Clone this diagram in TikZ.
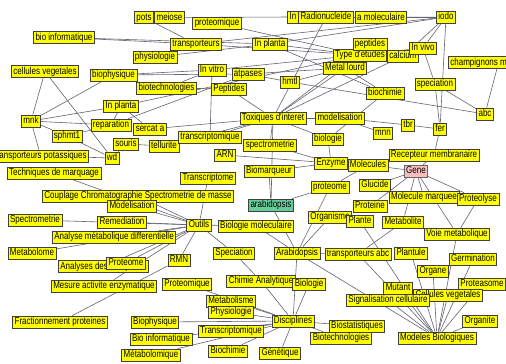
\documentclass[tikz,border=0pt]{standalone}
\usepackage{fontspec}
\newfontfamily\fnt[FakeStretch=0.8]{Liberation Sans}
\usetikzlibrary{backgrounds}
\definecolor{nodey}{RGB}{255,255,0}
\definecolor{nodeg}{RGB}{102,204,153}
\definecolor{nodep}{RGB}{250,190,190}
\definecolor{edgec}{RGB}{100,100,112}
\tikzset{
  nd/.style={draw=black!75, fill=nodey, line width=0.7pt, inner xsep=2pt, inner ysep=0pt,
    minimum height=12pt, text height=7.3pt, text depth=2.2pt, font=\fnt\fontsize{10}{11}\selectfont},
  gnd/.style={nd, fill=nodeg},
  pnd/.style={nd, fill=nodep, draw=black!60},
  ln/.style={draw=edgec, line width=0.6pt},
}
\begin{document}
\begin{tikzpicture}[x=1pt,y=-1pt]
\useasboundingbox (0,0) rectangle (506,364);
% nodes
\node[nd] (pots) at (144,17.5) {pots};
\node[nd] (meiose) at (169.5,17.5) {meiose};
\node[nd] (proteomique) at (217,23) {proteomique};
\node[nd] (In) at (293,17) {In};
\node[nd] (radio) at (326,17) {Radionucleide};
\node[nd] (amolec) at (381,17.5) {a moleculaire};
\node[nd] (iodo) at (446,17) {iodo};
\node[nd] (bioinf) at (64,37.5) {bio informatique};
\node[nd] (transp) at (196,44) {transporteurs};
\node[nd] (inplanta) at (270,44) {In planta};
\node[nd] (typeet) at (360,55) {Type d'etudes};
\node[nd] (peptides) at (370,44) {peptides};
\node[nd] (calcium) at (403,56) {calcium};
\node[nd] (invivo) at (423,48) {In vivo};
\node[nd] (physio) at (155,57) {physiologie};
\node[nd] (cellveg) at (45,71.5) {cellules vegetales};
\node[nd] (biophys) at (113.5,75) {biophysique};
\node[nd] (invitro) at (212,70) {In vitro};
\node[nd] (atpases) at (248,74) {atpases};
\node[nd] (metallourd) at (345,68) {Metal lourd};
\node[nd] (hmtl) at (290,82) {hmtl};
\node[nd,anchor=west] (champ) at (448,62.5) {champignons mycorhiziens};
\node[nd] (biotech) at (166.5,88) {biotechnologies};
\node[nd] (peptB) at (229,89) {Peptides};
\node[nd] (biochimie) at (385,93) {biochimie};
\node[nd] (speciation) at (435,84) {speciation};
\node[nd] (inplanta2) at (121,106) {In planta};
\node[nd] (mnk) at (31,121) {mnk};
\node[nd] (reparation) at (111,125) {reparation};
\node[nd] (sercat) at (150,129) {sercat a};
\node[nd] (toxiques) at (273,118) {Toxiques d'interet};
\node[nd] (modelis) at (340,118) {modelisation};
\node[nd] (tbr) at (408,125) {tbr};
\node[nd] (fer) at (440,129) {fer};
\node[nd] (abc) at (485,114) {abc};
\node[nd] (sphmt1) at (67,136) {sphmt1};
\node[nd] (souris) at (126,144) {souris};
\node[nd] (tellurite) at (164,146) {tellurite};
\node[nd] (transcriptomique) at (210,137) {transcriptomique};
\node[nd] (biologie) at (328,139) {biologie};
\node[nd] (mnn) at (383,133) {mnn};
\node[nd] (wd) at (112,158) {wd};
\node[nd,anchor=east] (transpot) at (89,156) {transporteurs potassiques};
\node[nd] (spectrom) at (270,145) {spectrometrie};
\node[nd] (arn) at (225,155) {ARN};
\node[nd] (recept) at (434,155) {Recepteur membranaire};
\node[nd] (enzyme) at (331,163) {Enzyme};
\node[nd] (molecules) at (368,165) {Molecules};
\node[pnd] (gene) at (416,171) {Gene};
\node[nd] (techmarq) at (54,173) {Techniques de marquage};
\node[nd] (biomarq) at (269,171) {Biomarqueur};
\node[nd] (transcriptome) at (208,178) {Transcriptome};
\node[nd] (proteomeL) at (330,187) {proteome};
\node[nd] (glucide) at (375,185) {Glucide};
\node[nd] (couplage) at (138,196) {Couplage Chromatographie Spectrometrie de masse};
\node[nd] (modelis2) at (132,206) {Modelisation};
\node[gnd] (arabid) at (271,205) {arabidopsis};
\node[nd] (molmarq) at (424,197) {Molecule marquee};
\node[nd] (proteolyse) at (478,199) {Proteolyse};
\node[nd] (proteine) at (370,206) {Proteine};
\node[nd] (spectro2) at (35,220) {Spectrometrie};
\node[nd] (remed) at (122,222) {Remediation};
\node[nd] (outils) at (199,225) {Outils};
\node[nd] (biolmol) at (256,226) {Biologie moleculaire};
\node[nd] (organisme) at (330,217) {Organisme};
\node[nd] (plante) at (360,221) {Plante};
\node[nd] (metabolite) at (403,222) {Metabolite};
\node[nd] (analyse) at (114,237) {Analyse métabolique differentielle};
\node[nd] (voie) at (457,234) {Voie metabolique};
\node[nd] (metabolome) at (32,253) {Metabolome};
\node[nd,anchor=west] (analyses) at (58,266.5) {Analyses des composes};
\node[nd] (proteomeB) at (126,263) {Proteome};
\node[nd] (speciation2) at (234,253) {Speciation};
\node[nd] (Arabidopsis) at (297,253) {Arabidopsis};
\node[nd] (transabc) at (358,254) {transporteurs abc};
\node[nd] (plantule) at (411,253) {Plantule};
\node[nd] (germination) at (473,259) {Germination};
\node[nd] (rmn) at (179,260) {RMN};
\node[nd] (organe) at (433,271) {Organe};
\node[nd] (proteomiqueB) at (187,284) {Proteomique};
\node[nd] (chimie) at (261,281) {Chimie Analytique};
\node[nd] (biologieB) at (309,284) {Biologie};
\node[nd] (proteasome) at (482,284) {Proteasome};
\node[nd] (mesure) at (104,286) {Mesure activite enzymatique};
\node[nd] (mutant) at (398,288) {Mutant};
\node[nd] (cellvegB) at (448,295) {Cellules vegetales};
\node[nd] (signal) at (388,300) {Signalisation cellulaire};
\node[nd] (metabolisme) at (231,301) {Metabolisme};
\node[nd] (physioB) at (231,312) {Physiologie};
\node[nd] (disciplines) at (293,321) {Disciplines};
\node[nd] (fraction) at (60,322) {Fractionnement proteines};
\node[nd] (biophysB) at (155,322) {Biophysique};
\node[nd] (organite) at (480,321) {Organite};
\node[nd] (biostat) at (357,326) {Biostatistiques};
\node[nd] (transcriptomiqueB) at (231,331) {Transcriptomique};
\node[nd] (bioinfB) at (161,339) {Bio informatique};
\node[nd] (biotechB) at (341,338) {Biotechnologies};
\node[nd] (modeles) at (437,338) {Modeles Biologiques};
\node[nd] (biochimieB) at (228,351) {Biochimie};
\node[nd] (genetique) at (280,353) {Génétique};
\node[nd] (metabolomique) at (151,355) {Métabolomique};
% edges
\begin{scope}[on background layer]
\fill[white] (0,0) rectangle (506,364);
\foreach \a/\b in {bioinf/transp, bioinf/inplanta, meiose/In, pots/transp, proteomique/typeet,
  physio/transp, physio/inplanta, biophys/invitro, biophys/atpases, biotech/peptB, biotech/invitro,
  cellveg/mnk, cellveg/wd, mnk/biophys, mnk/inplanta2, mnk/reparation, mnk/sphmt1, mnk/transpot,
  sphmt1/reparation, sphmt1/wd, transpot/wd, wd/souris, souris/tellurite, reparation/inplanta2,
  sercat/inplanta2, inplanta2/typeet, reparation/atpases, sercat/toxiques, transp/iodo, transp/typeet,
  inplanta/iodo, inplanta/typeet, invitro/typeet, invivo/typeet, atpases/hmtl, atpases/metallourd,
  peptB/toxiques, hmtl/abc, hmtl/metallourd, radio/iodo, amolec/iodo, iodo/calcium, iodo/fer,
  iodo/invivo, metallourd/toxiques, toxiques/radio, toxiques/peptides, toxiques/calcium,
  toxiques/tellurite, toxiques/modelis, toxiques/biologie, toxiques/spectrom, toxiques/transcriptomique,
  biochimie/biologie, biochimie/metallourd, biochimie/inplanta, speciation/fer, speciation/abc,
  speciation/invivo, champ/abc, modelis/mnn, modelis/tbr, tbr/fer, fer/recept, recept/molecules,
  molecules/enzyme, molecules/gene, arn/enzyme, biomarq/enzyme, spectrom/enzyme, biologie/enzyme,
  gene/glucide, gene/proteine, gene/molmarq, gene/metabolite, gene/voie, gene/recept, gene/proteolyse,
  transcriptomique/invitro, toxiques/arabid, arabid/proteomeL, arabid/Arabidopsis, arabid/biomarq,
  Arabidopsis/proteomeL, Arabidopsis/organisme, Arabidopsis/biolmol, Arabidopsis/disciplines,
  Arabidopsis/modeles, Arabidopsis/transabc, outils/couplage, outils/modelis2, outils/remed,
  outils/analyse, outils/proteomeB, outils/analyses, outils/rmn, outils/biolmol, outils/speciation2,
  outils/transcriptome, outils/mesure, outils/spectro2, outils/metabolome, outils/techmarq,
  fraction/rmn, speciation2/chimie, disciplines/chimie, disciplines/biologieB, disciplines/metabolisme,
  disciplines/physioB, disciplines/biophysB, disciplines/bioinfB, disciplines/transcriptomiqueB,
  disciplines/biochimieB, disciplines/genetique, disciplines/biostat, disciplines/biotechB,
  disciplines/metabolomique, disciplines/proteomiqueB, modeles/signal, modeles/mutant, modeles/cellvegB,
  modeles/organe, modeles/plantule, modeles/organite, modeles/proteasome, modeles/germination,
  modeles/plante, modeles/transabc, modeles/voie, metabolite/transabc, organisme/plante,
  molecules/proteomeL, proteolyse/voie}
  \draw[ln] (\a) -- (\b);
\end{scope}
\end{tikzpicture}
\end{document}
